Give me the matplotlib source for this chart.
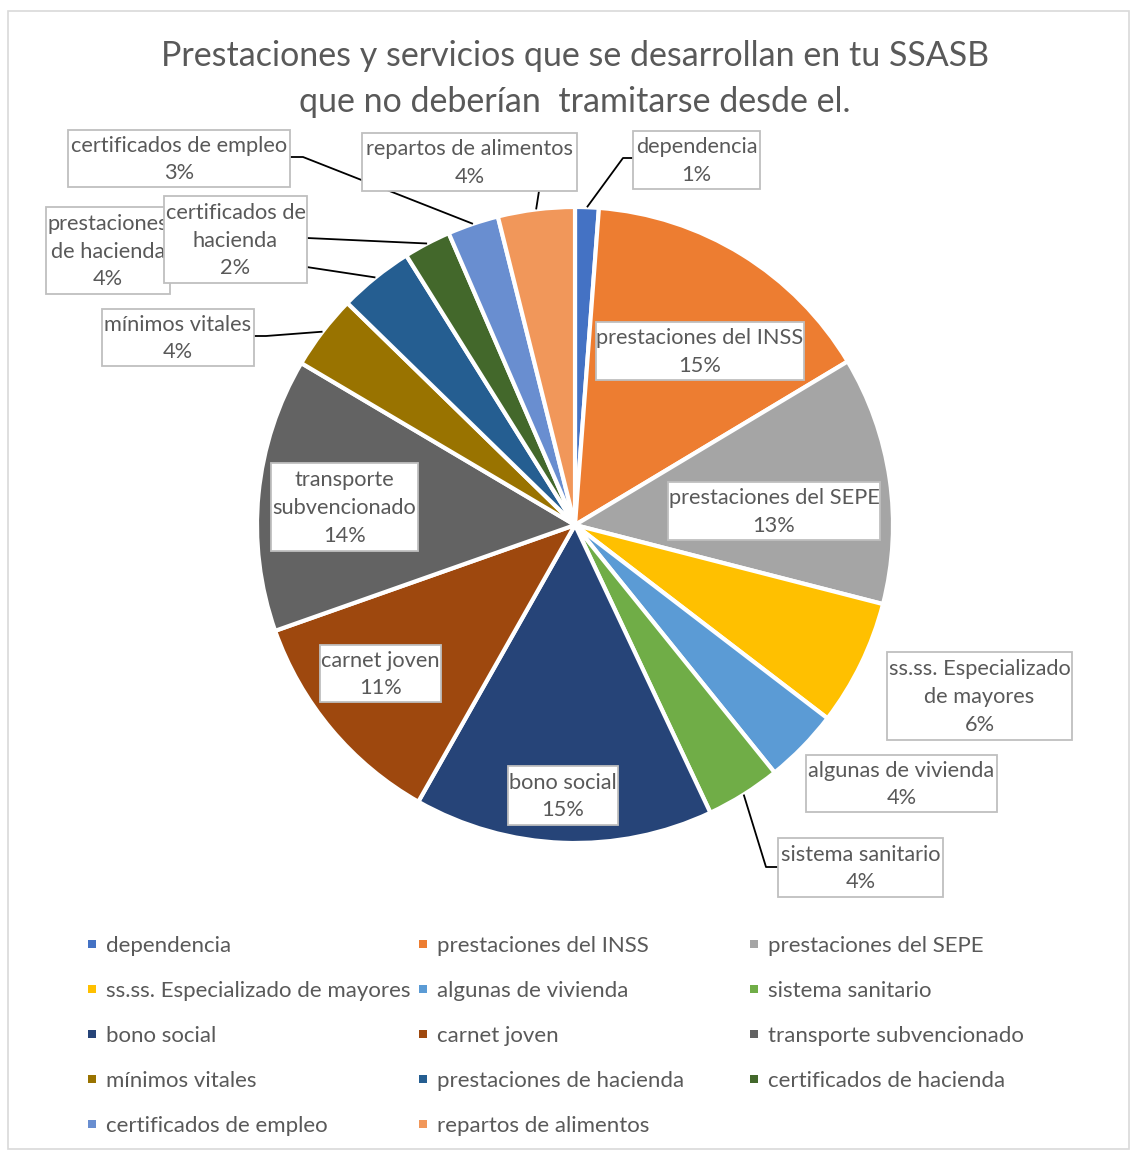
import matplotlib
matplotlib.use("Agg")
import matplotlib.pyplot as plt
from matplotlib.patches import Rectangle
import numpy as np

# ---------------- data ----------------
categories = [
    "dependencia", "prestaciones del INSS", "prestaciones del SEPE",
    "ss.ss. Especializado de mayores", "algunas de vivienda", "sistema sanitario",
    "bono social", "carnet joven", "transporte subvencionado", "mínimos vitales",
    "prestaciones de hacienda", "certificados de hacienda",
    "certificados de empleo", "repartos de alimentos",
]
values = [1.2, 15.2, 12.6, 6.4, 3.8, 3.8, 15.2, 11.4, 13.9, 3.8, 3.8, 2.4, 2.6, 3.9]
label_names = [
    "dependencia", "prestaciones del INSS", "prestaciones del SEPE",
    "ss.ss. Especializado\nde mayores", "algunas de vivienda", "sistema sanitario",
    "bono social", "carnet joven", "transporte\nsubvencionado", "mínimos vitales",
    "prestaciones\nde hacienda", "certificados de\nhacienda",
    "certificados de empleo", "repartos de alimentos",
]
colors = ["#4472C4", "#ED7D31", "#A5A5A5", "#FFC000", "#5B9BD5", "#70AD47",
          "#264478", "#9E480E", "#636363", "#997300", "#255E91", "#43682B",
          "#698ED0", "#F1975A"]
title = "Prestaciones y servicios que se desarrollan en tu SSASB\nque no deberían  tramitarse desde el."

# ---------------- layout (pixels, top-left origin) ----------------
W, H = 1131, 1151
CX, CY, R = 575, 525, 318
FONT = "Lato"
# label boxes: (left, top, right, bottom)
boxes = [
    (633, 131, 760, 189), (596, 322, 804, 380), (668, 482, 880, 540),
    (887, 652, 1072, 740), (806, 755, 997, 812), (778, 838, 943, 897),
    (508, 766, 618, 825), (320, 645, 441, 702), (271, 463, 418, 551),
    (102, 309, 254, 366), (46, 207, 170, 294), (164, 196, 307, 283),
    (68, 130, 290, 187), (362, 133, 577, 191),
]
# leader elbows (from slice edge point -> these points), None = no leader
leaders = [
    [(623, 158), (633, 158)], None, None, None, None,
    [(766, 867), (778, 867)], None, None, None,
    [(266, 336), (254, 336)], [(300, 266)], [(307, 238)],
    [(303, 157), (290, 157)], [(539, 191)],
]

def Y(y):
    return H - y

fig = plt.figure(figsize=(W / 100, H / 100), dpi=100)
ax = fig.add_axes([0, 0, 1, 1])
ax.set_xlim(0, W)
ax.set_ylim(0, H)
ax.set_aspect("equal")
ax.axis("off")

# outer border
ax.add_patch(Rectangle((8, Y(1149)), 1121, 1138, fill=False, ec="#D9D9D9", lw=1.2, zorder=0))

wedges, _ = ax.pie(values, colors=colors, startangle=90, counterclock=False,
                   center=(CX, Y(CY)), radius=R,
                   wedgeprops=dict(edgecolor="white", linewidth=3))
ax.set_xlim(0, W)
ax.set_ylim(0, H)

ax.text(575, Y(79), title, ha="center", va="center",
        fontsize=24.5, color="#595959", family=FONT, linespacing=1.53)

total = sum(values)
cum = np.cumsum([0] + values)
for i, v in enumerate(values):
    # leader line
    if leaders[i] is not None:
        mid = (cum[i] + cum[i + 1]) / 2 / total * 2 * np.pi
        sx = CX + R * np.sin(mid)
        sy = CY - R * np.cos(mid)
        pts = [(sx, sy)] + leaders[i]
        ax.plot([p[0] for p in pts], [Y(p[1]) for p in pts], color="black",
                lw=1.3, zorder=3 + i * 0.01, solid_capstyle="butt")
    l, t, r, b = boxes[i]
    z = 4 if i != 11 else 6
    ax.add_patch(Rectangle((l, Y(b)), r - l, b - t, fc="white", ec="#BFBFBF",
                           lw=1.3, zorder=z))
    pct = f"{round(v / total * 100):d}%"
    ax.text((l + r) / 2, Y((t + b) / 2 + 1), f"{label_names[i]}\n{pct}", ha="center",
            va="center", fontsize=15.7, color="#595959", family=FONT,
            linespacing=1.47, zorder=z + 0.5)

# legend (row-major, 3 columns)
col_x = [92, 423, 754]
row_y = [944, 989, 1034, 1079, 1124]
for i, name in enumerate(categories):
    rr, cc = divmod(i, 3)
    mx, my = col_x[cc], row_y[rr]
    ax.add_patch(Rectangle((mx - 4, Y(my) - 4), 8, 8, fc=colors[i], ec="none"))
    ax.text(mx + 14, Y(my + 2), name, ha="left", va="center", fontsize=16,
            color="#595959", family=FONT)

fig.savefig("out.png", dpi=100)
